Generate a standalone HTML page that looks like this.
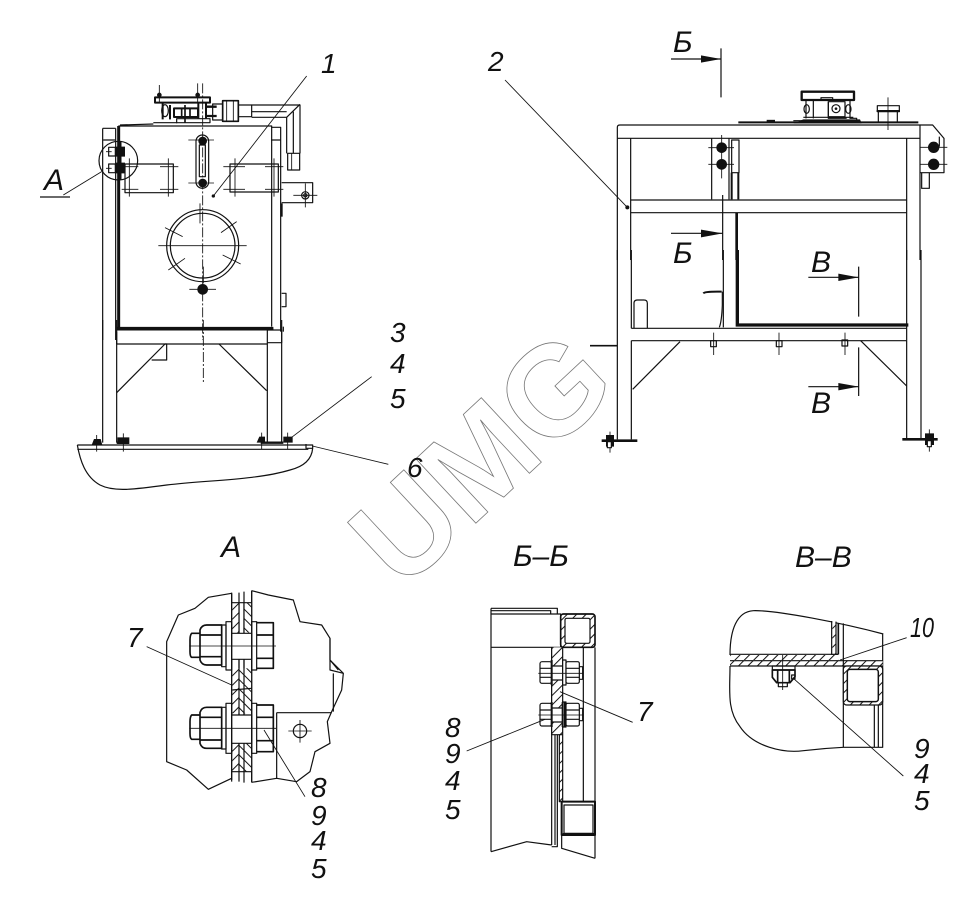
<!DOCTYPE html>
<html>
<head>
<meta charset="utf-8">
<style>
html,body{margin:0;padding:0;background:#fff;}
svg{display:block;}
text{font-family:"Liberation Sans",sans-serif;font-style:italic;fill:#111;stroke:none;font-size:28px;}
.z{fill:none;stroke:#111;stroke-width:3.6;stroke-linejoin:round;stroke-linecap:butt;}
.t{stroke-width:2.6;}
.b{stroke-width:9;}
.w{fill:#fff;}
.k{fill:#111;stroke:none;}
.cl{stroke-dasharray:30 6 6 6;stroke-width:2.6;}
.h{fill:url(#hat);stroke:none;}
.h2{fill:url(#hat2);stroke:none;}
.h3{fill:url(#hat3);stroke:none;}
.p{fill:none;stroke:#111;stroke-width:1.2;}
.a{fill:#111;stroke:none;}
</style>
</head>
<body>
<svg width="979" height="921" viewBox="0 0 979 921" xmlns="http://www.w3.org/2000/svg">
<defs>
<pattern id="hat" width="12" height="12" patternUnits="userSpaceOnUse" patternTransform="rotate(45)">
<rect width="12" height="12" fill="#fff"/><rect width="3.5" height="12" fill="#111"/>
</pattern>
<pattern id="hat2" width="20" height="20" patternUnits="userSpaceOnUse" patternTransform="rotate(45)">
<rect width="20" height="20" fill="#fff"/><rect width="3" height="20" fill="#111"/>
</pattern>
<pattern id="hat3" width="20" height="20" patternUnits="userSpaceOnUse" patternTransform="rotate(-45)">
<rect width="20" height="20" fill="#fff"/><rect width="3" height="20" fill="#111"/>
</pattern>
</defs>
<rect width="979" height="921" fill="#fff"/>

<!-- watermark -->
<text x="402" y="592" transform="rotate(-43 402 592)" style="font-size:128px;font-style:normal;font-weight:bold;fill:none;stroke:#777;stroke-width:.8">UMG</text>

<!-- LEFT VIEW upper -->
<g transform="translate(70,40) scale(.33333)">
<g class="z">
<path d="M98 265V900M137 265V900M98 265H137M100 300H135"/>
<path class="b" d="M146 258V865"/>
<path d="M145 258H605V860M150 255L250 252"/>
<path d="M603 262H632V875M603 300H632"/>
<path class="b" d="M140 865H610"/>
<path d="M640 860V875"/>
<rect x="165" y="372" width="145" height="86"/>
<rect x="480" y="372" width="145" height="84"/>
<path class="t" d="M155 380H205M155 448H205M270 380H325M270 448H325M178 355V470M295 355V470M460 380H525M460 448H525M585 380H640M585 448H640M495 355V470M612 355V470"/>
<rect x="378" y="285" width="38" height="160" rx="19"/>
<rect x="388" y="315" width="18" height="95"/>
<circle class="k" cx="398" cy="303" r="13"/>
<circle class="k" cx="398" cy="429" r="13"/>
<path class="t" d="M355 300H432M355 429H432"/>
<circle cx="398" cy="617" r="108"/>
<circle cx="398" cy="617" r="97"/>
<path class="t" d="M265 617H530M390 490V550M285 563L338 590M453 578L500 545M458 645L512 672M295 690L345 655"/>
<circle class="k" cx="398" cy="748" r="16"/>
<path class="t" d="M358 748H438M400 680V730"/>
<path class="cl" d="M398 130V900"/>
<!-- mechanism -->
<rect x="255" y="172" width="165" height="16" stroke-width="6"/>
<path class="t" d="M268 135V190M383 130V190"/>
<circle class="k" cx="268" cy="165" r="7"/>
<circle class="k" cx="383" cy="165" r="7"/>
<path stroke-width="6" d="M278 190V238M300 195V238M385 190V235M408 190V235"/>
<ellipse cx="285" cy="212" rx="10" ry="18"/>
<rect x="312" y="205" width="72" height="26" stroke-width="6"/>
<path stroke-width="5" d="M335 205V231M360 205V231M345 195V248"/>
<path d="M250 248H420V236H320V250"/>
<path stroke-width="7" d="M405 200H440M405 228H440"/>
<rect x="428" y="192" width="30" height="48"/>
<rect x="458" y="182" width="47" height="62" stroke-width="5"/>
<path class="t" d="M470 182V244M490 182V244"/>
<rect x="505" y="195" width="40" height="35"/>
<path d="M545 195H690V340M545 215H650M545 232H650V340M650 232L690 193M670 215V340"/>
<rect x="653" y="340" width="36" height="50"/>
<path class="t" d="M665 340V390"/>
<!-- side bracket -->
<path d="M635 428H728V488H635"/>
<circle cx="706" cy="466" r="11"/>
<circle cx="706" cy="466" r="5"/>
<path class="t" d="M670 466H742M706 430V502"/>
<path d="M635 760H648V800H635"/>
<path stroke-width="6" d="M635 490V530"/>
<!-- A circle -->
<circle cx="145" cy="362" r="58"/>
<path class="b" d="M150 305V420"/>
<rect x="116" y="322" width="20" height="26"/>
<rect x="116" y="372" width="20" height="26"/>
<path class="k" d="M136 320H165V350H136ZM136 368H165V400H136Z"/>
<path class="t" d="M108 335H125M108 385H125"/>
<path class="t" d="M710 108L430 468"/>
<circle class="k" cx="430" cy="468" r="5"/>
<path class="t" d="M95 395L-20 465"/>
</g>
</g>
<path class="p" d="M40 197H70"/>

<!-- LEFT VIEW lower -->
<g transform="translate(70,320) scale(.33333)">
<g class="z">
<path d="M98 0V368M140 0V368M592 30V365M635 0V365"/>
<path class="b" d="M140 27H610" stroke-width="12"/>
<path d="M140 35V72M592 30H635V68H592M140 72H592"/>
<path d="M140 218L285 72M447 72L590 212M285 72H290V120H245"/>
<path class="cl" d="M400 0V188"/>
<path d="M22 375H728V385M22 388H715M22 375C30 420 45 470 90 495C130 515 180 510 290 495C420 480 560 480 660 450C700 440 725 420 728 385"/>
<path d="M708 372V385H728"/>
<path stroke-width="7" d="M140 368H175M572 368H640"/>
<path class="t" d="M80 345V395M160 340V395M575 338V388M653 338V388"/>
<path class="k" d="M65 375L72 357H92L97 375ZM142 372V352H178V372ZM560 368L568 350H585V368ZM640 368V350H668V368Z"/>
<path class="t" d="M905 170L665 352M727 378L955 433"/>
</g>
</g>

<!-- RIGHT VIEW upper -->
<g transform="translate(590,40) scale(.33333)">
<g class="z">
<path d="M82 660V262Q82 255 90 255H990V660M82 295H990M122 295V660M950 295V660"/>
<path stroke-width="6" d="M445 247H985"/>
<path d="M122 480H950M122 518H950"/>
<path d="M365 295V478M417 295V478"/>
<rect x="425" y="300" width="22" height="98"/>
<path stroke-width="6" d="M425 398V478M445 398V478"/>
<circle class="k" cx="395" cy="323" r="16"/>
<circle class="k" cx="395" cy="373" r="16"/>
<path class="t" d="M355 323H432M355 373H432M395 285V415"/>
<path stroke-width="8" d="M440 518V660"/>
<path d="M398 465V660"/>
<!-- section Б -->
<path d="M393 25V172M243 57H393M243 580H398"/>
<path class="a" d="M333 46L393 57L333 68Z"/>
<path class="a" d="M333 569L398 580L333 592Z"/>
<!-- mechanism -->
<rect x="635" y="155" width="157" height="25" stroke-width="7"/>
<path d="M648 180V235M670 180V235M715 185V235H770M780 180V235H800V242M610 242H810M640 232H790"/>
<rect x="693" y="173" width="35" height="8"/>
<rect x="715" y="185" width="50" height="45"/>
<circle cx="738" cy="206" r="12"/>
<circle class="k" cx="738" cy="206" r="4"/>
<ellipse cx="650" cy="207" rx="8" ry="13"/>
<ellipse cx="775" cy="207" rx="8" ry="13"/>
<path class="k" d="M610 250L640 238H810L815 250Z"/>
<path stroke-width="7" d="M530 243H555"/>
<!-- cap -->
<path d="M862 197H928V215H862ZM865 215V245M922 215V245"/>
<path stroke-width="6" d="M860 213H930"/>
<path class="t" d="M894 172V270"/>
<!-- right bracket -->
<path d="M990 255H1028L1062 295V398H990M1048 290V320"/>
<circle class="k" cx="1031" cy="322" r="17"/>
<circle class="k" cx="1031" cy="373" r="17"/>
<path class="t" d="M990 322H1072M990 373H1072"/>
<path d="M995 398V445H1018V398"/>
<!-- leader 2 -->
<path class="t" d="M-255 120L110 500"/>
<circle class="k" cx="112" cy="502" r="6"/>
</g>
</g>

<!-- RIGHT VIEW lower -->
<g transform="translate(590,250) scale(.33333)">
<g class="z">
<path d="M82 0V568M124 0V235M124 272V568M950 0V235M950 272V565M993 0V565"/>
<path d="M124 235H950M124 272H950M950 235V272"/>
<path stroke-width="10" d="M442 0V225M437 225H955"/>
<path d="M400 0V232"/>
<path d="M132 235V160Q132 150 142 150H162Q172 150 172 160V235"/>
<path stroke-width="6" d="M340 130Q345 124 395 125"/>
<path d="M397 125V165Q395 215 388 232"/>
<path d="M128 418L270 275M812 272L950 408"/>
<path stroke-width="5" d="M0 287H82"/>
<path stroke-width="8" d="M35 572H142M937 568H1043"/>
<path class="t" d="M60 545V608M1018 538V605"/>
<path class="k" d="M48 555H72V590H48ZM1005 550H1032V585H1005Z"/>
<rect class="w" x="52" y="575" width="12" height="18"/>
<rect class="w" x="1012" y="572" width="12" height="18"/>
<path class="t" d="M371 248V315M567 248V315M765 248V315"/>
<rect x="362" y="272" width="17" height="18"/>
<rect x="559" y="272" width="17" height="18"/>
<rect x="756" y="270" width="17" height="18"/>
<!-- section В -->
<path d="M806 50V200M655 82H806M806 292V438M655 410H806"/>
<path class="a" d="M745 71L806 82L745 93Z"/>
<path class="a" d="M745 399L806 410L745 421Z"/>
</g>
</g>

<!-- SECTION А -->
<g transform="translate(120,580) scale(.33333)">
<g class="z">
<path d="M335 40L265 52L225 85L175 105L140 185V545L200 570L265 628L335 595M395 32L445 45L520 60L540 125L605 135L630 175V240L670 280L665 330L635 395L622 425L630 490L585 515L570 575L530 605L470 595L395 607"/>
<path d="M630 175V270L670 280M630 240L655 270M640 280V395"/>
<path d="M335 40V600M357 38V605M372 35V608M395 32V607"/>
<rect class="h2" x="337" y="68" width="20" height="90"/>
<rect class="h3" x="372" y="68" width="23" height="90"/>
<rect class="h2" x="337" y="265" width="20" height="135"/>
<rect class="h3" x="357" y="265" width="38" height="135"/>
<rect class="h2" x="337" y="490" width="20" height="85"/>
<rect class="h3" x="357" y="490" width="38" height="85"/>
<path d="M335 68H395M335 575H395M337 330L395 325"/>
<path d="M357 68V575M372 68V575M335 38V605M395 32V607"/>
<!-- bolts -->
<rect class="w" x="335" y="160" width="60" height="78"/>
<rect class="w" x="335" y="405" width="60" height="85"/>
<rect x="318" y="125" width="17" height="145"/>
<rect x="395" y="125" width="15" height="145"/>
<rect x="318" y="370" width="17" height="150"/>
<rect x="395" y="370" width="15" height="150"/>
<rect x="305" y="135" width="13" height="125"/>
<rect x="305" y="382" width="13" height="125"/>
<path stroke-width="5" d="M240 150Q245 135 260 135H305V255H260Q245 255 240 240ZM240 165H305M240 230H305M240 150V240"/>
<path stroke-width="5" d="M240 397Q245 382 260 382H305V505H260Q245 505 240 490ZM240 412H305M240 480H305M240 397V490"/>
<path stroke-width="5" d="M240 160H215Q210 165 210 180V215Q210 230 215 232H240M240 405H215Q210 410 210 425V460Q210 475 215 478H240"/>
<path stroke-width="5" d="M410 128H460V265H410M410 165H460M410 235H460M410 375H460V515H410M410 412H460M410 482H460"/>
<path class="t" d="M208 198H468M208 445H468"/>
<!-- bracket -->
<path d="M470 398H635M470 398V597"/>
<circle cx="540" cy="453" r="20"/>
<path class="t" d="M505 453H575M540 420V488"/>
<path class="t" d="M80 200L335 315M432 450L555 650"/>
</g>
</g>

<!-- SECTION Б-Б -->
<g transform="translate(440,590) scale(.33333)">
<g class="z">
<path d="M153 55V785M153 55H352V70M153 62H332V72M153 72H362V172M153 172H362"/>
<path d="M153 785L260 755L335 765M335 172V765M352 172V770H335"/>
<rect class="h2" x="336" y="172" width="32" height="262"/>
<rect class="h2" x="358" y="434" width="10" height="200"/>
<path d="M335 172V434H368V172M345 434V765M358 434V635H368V434"/>
<rect x="362" y="72" width="103" height="100" rx="8" class="h2"/>
<rect x="362" y="72" width="103" height="100" rx="8" stroke-width="5"/>
<rect class="w" x="375" y="85" width="75" height="75" rx="5"/>
<path d="M465 172V805M430 172V635"/>
<rect x="365" y="635" width="100" height="100" stroke-width="6"/>
<rect class="w" x="372" y="645" width="87" height="85"/>
<path stroke-width="8" d="M368 733H465"/>
<path d="M365 735V775L465 805M368 635H465"/>
<!-- bolts -->
<rect class="w" x="300" y="215" width="35" height="65" rx="6"/>
<rect class="w" x="300" y="340" width="35" height="68" rx="6"/>
<rect class="w" x="335" y="228" width="33" height="42"/>
<rect class="w" x="335" y="354" width="33" height="42"/>
<rect class="w" x="368" y="210" width="10" height="75"/>
<rect class="w" x="368" y="336" width="10" height="75"/>
<rect class="w" x="378" y="215" width="40" height="65" rx="5"/>
<rect class="w" x="378" y="340" width="40" height="68" rx="5"/>
<path d="M418 230H428V268H418M418 355H428V392H418M300 235H335M300 262H335M378 235H418M378 262H418M300 360H335M300 388H335M378 360H418M378 388H418"/>
<path stroke-width="6" d="M335 210V285M335 336V411M368 336V411M375 336V411"/>
<path class="t" d="M295 250H430M295 375H430"/>
<path class="t" d="M360 305L578 397M80 483L315 388"/>
</g>
</g>

<!-- SECTION В-В -->
<g transform="translate(710,590) scale(.33333)">
<g class="z">
<path d="M520 132C400 100 200 60 130 62C80 65 60 120 60 195M60 228C60 300 50 360 90 410C130 470 220 490 280 482C340 475 400 472 400 472H518V132"/>
<rect class="h2" x="60" y="195" width="325" height="15"/>
<rect class="h2" x="60" y="213" width="458" height="15"/>
<path d="M60 193H385M60 212H518M60 228H518"/>
<path stroke-width="5" d="M385 100V193"/>
<rect class="h2" x="367" y="93" width="11" height="100"/>
<path d="M365 93V193H385M378 95V193M400 100V472"/>
<rect class="h2" x="400" y="228" width="118" height="117" rx="10"/>
<rect x="400" y="228" width="118" height="117" rx="10"/>
<rect class="w" x="412" y="238" width="93" height="97" rx="8" stroke-width="4.5"/>
<path d="M493 345V472M505 345V472"/>
<!-- bolt -->
<rect x="187" y="228" width="68" height="12"/>
<path stroke-width="5" d="M187 240H255V260L240 278H200L187 262ZM203 240V278M238 240V278"/>
<path d="M205 278V290H232V278"/>
<path class="t" d="M218 195V300"/>
<rect x="245" y="255" width="10" height="12"/>
<path class="t" d="M590 143L390 210M250 265L580 558"/>
</g>
</g>

<!-- labels -->
<text x="321" y="73">1</text>
<text x="44" y="190" style="font-size:30px">А</text>
<text x="390" y="342">3</text>
<text x="390" y="373">4</text>
<text x="390" y="408">5</text>
<text x="407" y="477">6</text>
<text x="488" y="71">2</text>
<text x="673" y="52" style="font-size:30px">Б</text>
<text x="673" y="263" style="font-size:30px">Б</text>
<text x="811" y="272" style="font-size:30px">В</text>
<text x="811" y="413" style="font-size:30px">В</text>
<text x="221" y="557" style="font-size:30px">А</text>
<text x="513" y="566" style="font-size:30px">Б–Б</text>
<text x="795" y="567" style="font-size:30px">В–В</text>
<text x="127" y="647">7</text>
<text x="311" y="797">8</text>
<text x="311" y="825">9</text>
<text x="311" y="850">4</text>
<text x="311" y="878">5</text>
<text x="637" y="721">7</text>
<text x="445" y="737">8</text>
<text x="445" y="763">9</text>
<text x="445" y="790">4</text>
<text x="445" y="819">5</text>
<text x="910" y="637" textLength="24" lengthAdjust="spacingAndGlyphs">10</text>
<text x="914" y="758">9</text>
<text x="914" y="783">4</text>
<text x="914" y="810">5</text>
</svg>
</body>
</html>
